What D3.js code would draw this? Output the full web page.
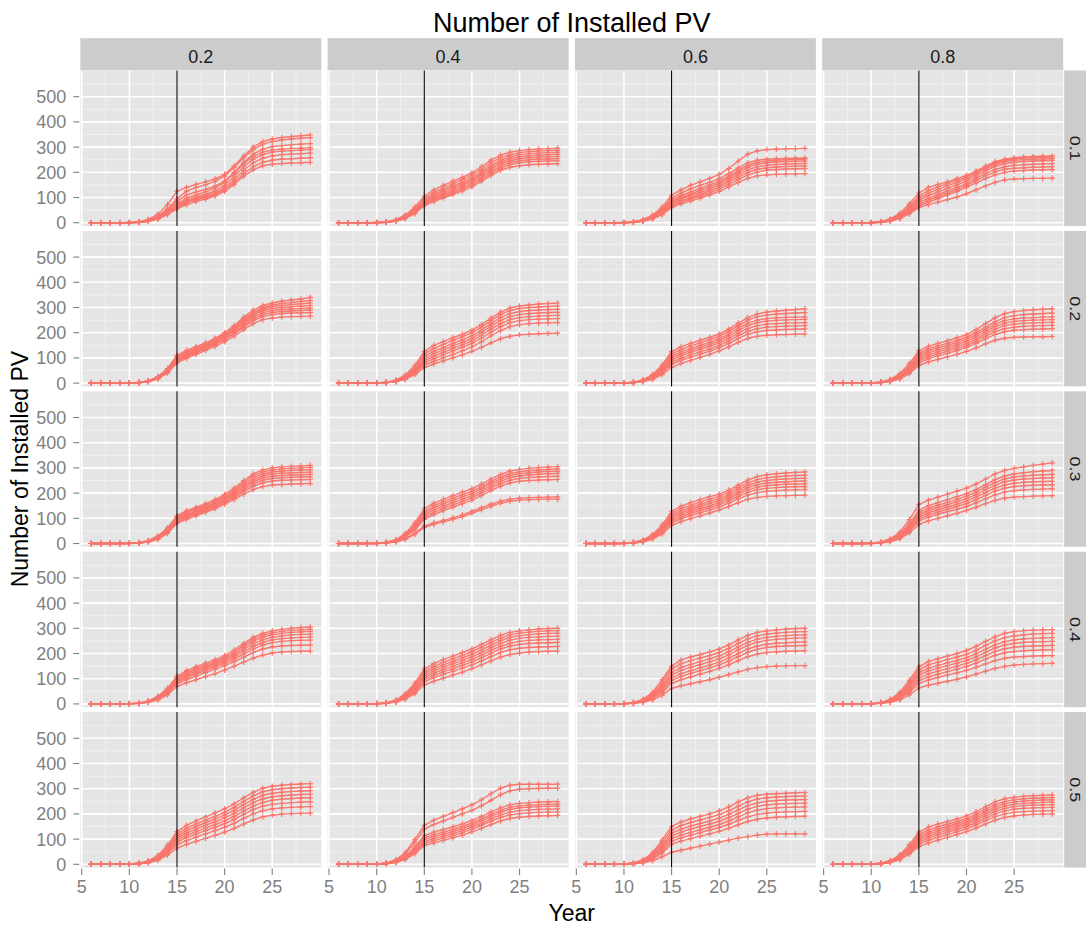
<!DOCTYPE html>
<html>
<head>
<meta charset="utf-8">
<script src="https://cdn.jsdelivr.net/npm/d3@7"></script>
<style>
  body { margin: 0; background: #fff; }
  text { font-family: "Liberation Sans", Arial, sans-serif; }
</style>
</head>
<body>
<div id="chart"></div>
<script>
// facets
var colLevels = ["0.2", "0.4", "0.6", "0.8"];
var rowLevels = ["0.1", "0.2", "0.3", "0.4", "0.5"];
var years = [6,7,8,9,10,11,12,13,14,15,16,17,18,19,20,21,22,23,24,25,26,27,28,29];
var xTicks = [5, 10, 15, 20, 25];
var yTicks = [0, 100, 200, 300, 400, 500];
var markYear = 15;

// runs per panel (one row per run, values for each year)
var r1c1 = [
  [0,0,0,0,1,4,13,34,72,125,140,152,162,174,192,225,265,300,322,332,338,342,345,348],
  [0,0,0,0,1,3,10,25,55,95,125,140,150,165,185,220,258,290,312,322,328,332,335,338],
  [0,0,0,0,0,2,8,22,50,85,110,122,132,145,165,200,240,272,292,302,306,310,312,314],
  [0,0,0,0,1,3,9,20,45,75,98,110,122,138,160,195,235,262,280,288,292,295,296,298],
  [0,0,0,0,0,2,7,18,40,70,90,102,112,126,148,182,222,252,270,280,284,286,288,290],
  [0,0,0,0,1,2,8,20,42,65,85,96,106,118,138,170,208,238,256,265,270,272,274,276],
  [0,0,0,0,0,2,6,16,36,60,80,90,100,112,130,160,195,222,240,248,252,254,256,258],
  [0,0,0,0,0,1,5,14,32,55,72,84,94,106,124,152,185,210,226,232,235,237,238,240]
];
var r1c2 = [
  [0,0,0,0,1,4,12,30,62,105,130,148,165,180,198,222,248,268,280,286,290,292,294,296],
  [0,0,0,0,1,3,10,26,55,95,120,138,155,172,190,212,238,258,270,278,282,284,286,288],
  [0,0,0,0,0,3,9,24,50,90,112,130,146,162,180,202,228,248,262,270,274,276,278,280],
  [0,0,0,0,1,3,9,22,48,85,106,124,140,155,172,195,220,240,254,262,266,268,270,272],
  [0,0,0,0,0,2,8,20,45,80,100,116,132,148,165,188,212,232,246,254,258,260,262,263],
  [0,0,0,0,0,2,7,18,42,76,95,110,125,140,158,180,204,224,238,246,250,252,253,254],
  [0,0,0,0,1,2,7,18,40,72,90,104,118,133,150,172,196,216,230,238,242,244,245,246],
  [0,0,0,0,0,2,6,16,36,68,84,98,112,126,142,164,188,208,220,226,230,232,233,234]
];
var r1c3 = [
  [0,0,0,0,1,4,12,30,62,110,130,148,162,176,192,215,245,272,285,290,292,293,294,295],
  [0,0,0,0,1,3,10,26,55,98,118,134,148,160,175,195,218,238,248,252,254,255,256,257],
  [0,0,0,0,0,3,9,23,50,90,108,122,136,150,165,185,208,228,240,245,248,250,251,252],
  [0,0,0,0,1,3,9,22,46,84,100,114,128,142,158,178,200,220,232,238,241,243,244,245],
  [0,0,0,0,0,2,8,20,42,78,95,108,120,134,150,170,192,210,222,228,231,233,234,235],
  [0,0,0,0,0,2,7,18,38,72,88,100,112,126,142,162,182,200,212,218,221,223,224,225],
  [0,0,0,0,1,2,6,16,35,66,82,94,106,118,134,152,172,190,202,208,211,213,214,215],
  [0,0,0,0,0,2,6,15,32,60,75,86,98,110,124,142,160,176,186,190,192,193,194,195]
];
var r1c4 = [
  [0,0,0,0,1,5,15,38,75,118,140,152,162,175,188,205,225,242,252,258,261,263,264,265],
  [0,0,0,0,1,4,12,32,65,105,128,142,155,168,182,200,220,238,248,254,257,259,260,261],
  [0,0,0,0,1,3,10,28,58,96,118,132,146,160,175,194,214,232,242,248,250,252,253,254],
  [0,0,0,0,0,3,9,25,52,88,108,122,136,150,166,186,206,224,234,240,243,245,246,247],
  [0,0,0,0,1,3,8,22,48,80,98,112,126,140,156,176,196,212,222,228,230,232,233,234],
  [0,0,0,0,0,2,7,20,44,72,90,104,118,132,148,168,186,202,212,216,218,220,221,222],
  [0,0,0,0,0,2,7,18,40,66,82,96,110,124,140,158,175,190,200,205,207,209,210,211],
  [0,0,0,0,0,2,6,16,35,60,72,82,92,102,115,130,146,160,170,174,175,176,176,177]
];
var r2c1 = [
  [0,0,0,0,1,3,10,26,58,110,130,145,160,178,200,228,262,290,308,318,325,330,334,340],
  [0,0,0,0,1,3,9,24,54,104,124,140,156,174,195,222,255,282,300,310,316,320,324,328],
  [0,0,0,0,0,2,8,22,50,100,120,136,152,170,190,216,248,276,294,304,308,312,315,318],
  [0,0,0,0,1,2,8,21,48,96,116,132,148,166,186,212,242,270,288,296,300,303,306,308],
  [0,0,0,0,0,2,7,20,46,92,112,128,144,162,182,206,236,262,280,288,292,294,296,298],
  [0,0,0,0,0,2,7,19,44,88,108,124,140,158,176,200,228,255,272,280,284,286,288,290],
  [0,0,0,0,1,2,6,18,42,84,104,120,136,153,172,195,222,248,264,272,276,278,279,280],
  [0,0,0,0,0,2,6,17,40,80,98,114,130,146,164,186,212,236,252,258,262,264,265,266]
];
var r2c2 = [
  [0,0,0,0,1,4,12,32,70,125,150,165,180,194,210,232,258,282,298,306,310,314,316,318],
  [0,0,0,0,1,3,10,28,62,115,138,154,170,184,200,222,248,272,288,296,300,302,304,306],
  [0,0,0,0,1,3,9,25,55,105,126,142,158,172,188,210,236,260,276,284,288,290,292,293],
  [0,0,0,0,0,3,8,22,50,96,116,132,148,162,178,200,226,248,264,272,276,278,280,281],
  [0,0,0,0,0,2,8,20,46,88,106,122,138,152,168,190,214,236,252,260,264,266,268,269],
  [0,0,0,0,1,2,7,18,42,80,96,112,128,142,158,178,202,224,240,248,252,254,255,256],
  [0,0,0,0,0,2,6,16,38,72,86,100,114,128,144,164,188,208,224,232,236,238,239,240],
  [0,0,0,0,0,2,6,15,34,62,76,88,100,112,126,142,160,176,186,192,194,196,197,198]
];
var r2c3 = [
  [0,0,0,0,1,4,13,34,72,125,145,158,170,182,195,214,238,260,275,282,286,289,292,295],
  [0,0,0,0,1,4,11,30,64,115,134,148,160,172,186,205,228,250,264,270,274,276,278,280],
  [0,0,0,0,1,3,10,27,58,106,124,138,150,162,176,195,218,238,250,256,259,261,262,263],
  [0,0,0,0,0,3,9,24,52,98,116,130,142,154,168,187,208,228,240,246,249,251,252,253],
  [0,0,0,0,0,2,8,22,48,90,108,122,134,146,160,178,198,216,228,234,236,238,239,240],
  [0,0,0,0,1,2,7,20,44,82,98,112,124,136,150,168,188,205,216,222,224,226,227,228],
  [0,0,0,0,0,2,7,18,40,74,90,103,115,127,141,158,177,194,204,209,211,213,214,215],
  [0,0,0,0,0,2,6,15,34,62,78,90,102,114,128,144,162,178,186,190,192,193,194,195]
];
var r2c4 = [
  [0,0,0,0,1,5,15,38,78,128,146,158,168,180,192,212,236,260,276,284,288,291,293,295],
  [0,0,0,0,1,4,12,32,68,118,136,148,158,170,182,200,222,244,260,268,272,274,276,278],
  [0,0,0,0,1,3,11,29,62,110,128,140,150,161,174,192,213,234,248,255,258,260,262,263],
  [0,0,0,0,0,3,10,26,56,102,120,132,142,153,166,184,204,224,238,245,248,250,251,252],
  [0,0,0,0,1,3,9,24,52,95,112,124,134,145,158,175,195,214,228,234,237,239,240,241],
  [0,0,0,0,0,2,8,22,48,88,104,116,126,137,150,166,186,204,216,222,225,227,228,229],
  [0,0,0,0,0,2,7,20,44,80,96,108,118,129,142,158,176,193,204,210,212,214,215,216],
  [0,0,0,0,0,2,6,17,38,70,84,94,104,114,126,140,156,170,178,182,183,184,184,185]
];
var r3c1 = [
  [0,0,0,0,1,4,12,30,62,110,130,144,158,174,195,220,250,276,292,300,304,306,308,310],
  [0,0,0,0,1,3,10,27,58,104,124,138,152,168,188,212,242,268,284,292,296,298,300,302],
  [0,0,0,0,1,3,9,25,55,100,119,133,147,163,182,206,235,260,276,284,288,290,292,293],
  [0,0,0,0,0,3,9,24,52,96,114,128,142,158,177,200,228,252,268,276,279,281,282,283],
  [0,0,0,0,0,2,8,22,49,92,110,124,138,153,172,194,221,245,260,267,270,272,273,274],
  [0,0,0,0,1,2,8,21,46,88,106,120,134,149,167,188,214,236,251,258,261,263,264,265],
  [0,0,0,0,0,2,7,19,43,84,101,115,129,144,162,182,206,227,241,248,251,252,253,254],
  [0,0,0,0,0,2,6,17,40,80,96,110,124,138,156,175,196,214,226,232,234,236,237,238]
];
var r3c2 = [
  [0,0,0,0,1,5,15,40,82,138,160,175,190,204,218,236,256,274,288,294,298,301,303,305],
  [0,0,0,0,1,4,13,35,74,128,150,165,180,194,208,226,246,264,278,285,289,292,294,296],
  [0,0,0,0,1,4,12,32,68,120,142,157,171,185,200,218,238,256,270,277,281,284,286,287],
  [0,0,0,0,1,3,11,29,62,112,133,148,162,176,191,209,229,247,261,268,272,275,277,278],
  [0,0,0,0,0,3,10,27,58,104,124,139,153,167,182,200,220,238,251,258,262,264,266,267],
  [0,0,0,0,0,3,9,25,54,96,115,130,144,158,172,190,210,228,240,247,250,252,253,254],
  [0,0,0,0,0,2,7,19,40,70,82,92,102,114,128,142,156,168,176,180,182,183,184,185],
  [0,0,0,0,0,2,6,17,36,64,76,86,96,107,120,134,148,160,168,172,174,175,176,176]
];
var r3c3 = [
  [0,0,0,0,1,5,14,36,74,128,148,162,174,186,196,212,232,252,266,273,277,280,282,284],
  [0,0,0,0,1,4,12,32,66,118,138,152,164,176,187,203,222,241,254,261,265,268,270,271],
  [0,0,0,0,1,4,11,29,60,110,129,143,155,167,178,194,213,231,244,250,254,256,258,259],
  [0,0,0,0,0,3,10,27,56,103,121,135,147,159,170,186,204,222,234,240,243,245,247,248],
  [0,0,0,0,1,3,9,24,51,96,113,127,139,150,162,178,196,213,224,230,233,235,236,237],
  [0,0,0,0,0,3,8,22,47,89,105,119,131,142,154,169,187,203,214,219,222,224,225,226],
  [0,0,0,0,0,2,7,20,43,82,98,111,122,133,145,160,177,192,202,207,210,212,213,214],
  [0,0,0,0,0,2,6,18,38,72,87,99,110,121,133,147,162,175,183,187,189,190,191,192]
];
var r3c4 = [
  [0,0,0,0,1,6,18,45,95,155,172,184,196,208,220,236,256,276,290,298,304,310,315,320],
  [0,0,0,0,1,5,15,38,80,132,150,162,174,186,198,214,234,254,268,276,281,285,288,290],
  [0,0,0,0,1,4,13,34,72,122,140,152,163,175,188,204,224,243,256,264,268,271,273,274],
  [0,0,0,0,1,4,12,31,66,114,131,143,154,166,178,194,213,232,245,252,256,258,260,261],
  [0,0,0,0,0,3,11,28,60,106,122,134,145,156,168,184,202,220,232,239,243,245,246,247],
  [0,0,0,0,0,3,10,26,55,98,114,125,136,147,158,173,191,208,220,226,229,231,232,233],
  [0,0,0,0,0,3,9,23,50,90,105,116,126,136,147,161,177,193,204,210,213,215,216,217],
  [0,0,0,0,0,2,7,19,42,76,90,100,110,120,131,144,158,171,180,184,186,188,189,190]
];
var r4c1 = [
  [0,0,0,0,1,4,12,30,62,110,132,148,162,176,192,214,240,264,280,290,296,300,303,305],
  [0,0,0,0,1,3,10,27,57,104,125,141,155,169,185,206,232,256,272,282,288,292,294,296],
  [0,0,0,0,1,3,9,25,54,99,119,135,149,163,179,199,224,248,264,274,280,284,286,288],
  [0,0,0,0,0,3,9,23,51,95,114,130,144,158,174,193,216,238,254,264,270,274,276,277],
  [0,0,0,0,0,2,8,22,48,90,108,124,138,152,168,186,207,228,244,254,259,262,264,265],
  [0,0,0,0,1,2,7,20,45,86,103,118,132,146,161,178,198,218,234,243,248,251,252,253],
  [0,0,0,0,0,2,7,18,42,80,96,110,124,138,152,168,186,204,218,226,230,232,233,234],
  [0,0,0,0,0,2,6,16,36,70,84,96,108,120,134,150,166,182,194,202,206,208,209,210]
];
var r4c2 = [
  [0,0,0,0,1,5,15,40,82,138,160,176,190,204,218,236,255,272,284,290,294,297,299,300],
  [0,0,0,0,1,4,13,35,74,128,149,165,179,193,207,225,244,261,274,281,285,288,290,291],
  [0,0,0,0,1,4,12,32,68,120,140,155,169,183,197,214,233,251,264,271,275,278,280,281],
  [0,0,0,0,1,3,11,29,62,112,131,146,160,173,187,204,223,240,253,260,264,266,268,269],
  [0,0,0,0,0,3,10,26,56,104,122,136,150,163,177,194,212,229,241,248,252,254,255,256],
  [0,0,0,0,0,3,9,24,52,96,113,127,140,153,167,183,201,218,230,236,240,242,243,244],
  [0,0,0,0,0,2,8,22,47,88,104,117,130,142,155,171,188,204,215,221,224,226,227,228],
  [0,0,0,0,0,2,7,19,41,76,90,102,114,126,140,155,171,186,196,202,206,208,209,210]
];
var r4c3 = [
  [0,0,0,0,1,6,18,46,96,150,175,186,196,206,218,234,254,272,284,290,294,297,299,300],
  [0,0,0,0,1,5,16,40,85,138,160,172,182,192,204,220,240,258,270,277,281,284,286,287],
  [0,0,0,0,1,4,13,34,74,125,145,157,168,179,191,207,226,244,257,264,268,271,273,274],
  [0,0,0,0,1,4,12,30,66,115,133,145,156,167,179,195,214,232,245,252,256,259,261,262],
  [0,0,0,0,0,3,10,27,58,104,120,132,143,154,166,182,200,218,230,237,241,243,245,246],
  [0,0,0,0,0,3,9,24,52,94,109,121,132,143,155,170,188,205,217,224,228,230,231,232],
  [0,0,0,0,0,2,8,21,45,82,96,107,118,129,141,155,172,188,198,204,207,209,210,211],
  [0,0,0,0,0,2,6,16,34,62,72,80,88,96,106,116,127,137,144,148,150,151,152,152]
];
var r4c4 = [
  [0,0,0,0,1,6,18,46,94,148,168,180,190,200,212,228,248,266,280,287,291,293,294,295],
  [0,0,0,0,1,5,15,40,84,135,155,166,176,186,197,213,232,250,263,270,274,277,279,280],
  [0,0,0,0,1,4,13,35,75,124,142,153,163,173,184,199,217,234,247,254,258,260,262,263],
  [0,0,0,0,1,4,12,31,67,114,131,142,152,162,173,187,205,222,234,240,244,246,247,248],
  [0,0,0,0,0,3,10,27,59,103,119,130,140,150,161,175,192,208,219,225,228,230,231,232],
  [0,0,0,0,0,3,9,24,52,93,107,118,128,138,149,162,178,193,203,208,211,213,214,215],
  [0,0,0,0,0,2,8,21,46,82,95,105,114,123,133,145,159,172,181,186,188,190,191,192],
  [0,0,0,0,0,2,6,16,36,64,74,82,90,98,107,118,130,141,149,154,157,159,160,161]
];
var r5c1 = [
  [0,0,0,0,1,5,14,36,76,130,155,172,188,204,220,240,264,286,302,310,314,317,319,320],
  [0,0,0,0,1,4,12,32,68,120,144,160,175,190,206,226,250,272,288,296,300,303,305,306],
  [0,0,0,0,1,4,11,29,62,112,134,150,165,180,195,214,237,258,274,282,286,289,291,292],
  [0,0,0,0,0,3,10,26,57,104,124,140,155,169,184,202,224,245,260,268,272,275,277,278],
  [0,0,0,0,0,3,9,24,52,96,115,130,144,158,172,190,211,231,246,254,258,261,263,264],
  [0,0,0,0,1,2,8,22,48,88,106,120,134,147,161,178,198,217,231,238,242,245,247,248],
  [0,0,0,0,0,2,7,19,43,78,94,108,121,134,147,163,182,200,213,220,224,226,228,229],
  [0,0,0,0,0,2,6,16,36,64,79,91,103,115,128,143,160,176,188,195,199,201,202,203]
];
var r5c2 = [
  [0,0,0,0,1,6,18,46,98,155,175,190,205,220,236,256,280,302,314,318,318,318,318,318],
  [0,0,0,0,1,5,15,40,86,140,158,172,186,200,214,232,254,276,292,298,300,301,302,302],
  [0,0,0,0,1,4,12,32,68,115,128,138,148,160,174,190,208,224,236,242,245,247,248,249],
  [0,0,0,0,1,4,11,29,62,106,118,128,138,150,164,180,198,214,226,232,235,237,238,239],
  [0,0,0,0,0,3,10,27,57,98,110,120,130,142,156,172,190,206,218,224,227,229,230,231],
  [0,0,0,0,0,3,9,25,52,90,102,112,122,134,148,163,180,196,207,213,216,218,219,220],
  [0,0,0,0,0,3,8,22,47,82,94,104,114,126,140,155,171,186,196,201,204,206,207,208],
  [0,0,0,0,0,2,7,19,42,74,85,95,105,116,129,143,158,172,182,187,190,192,193,194]
];
var r5c3 = [
  [0,0,0,0,1,6,18,46,96,150,168,180,190,200,212,228,248,264,274,278,280,282,284,285],
  [0,0,0,0,1,5,15,40,85,136,154,166,176,186,197,212,231,248,259,264,267,269,270,271],
  [0,0,0,0,1,4,13,35,75,124,140,152,162,172,183,198,216,233,244,250,253,255,256,257],
  [0,0,0,0,1,4,12,31,67,113,128,140,150,160,171,185,202,219,230,236,239,241,242,243],
  [0,0,0,0,0,3,10,27,59,102,116,127,137,147,158,172,188,204,215,221,224,226,227,228],
  [0,0,0,0,0,3,9,24,52,92,105,116,126,136,146,159,174,188,198,203,206,208,209,210],
  [0,0,0,0,0,2,8,20,44,80,92,102,112,121,131,143,157,170,179,184,187,189,190,191],
  [0,0,0,0,0,2,6,14,30,48,56,64,72,80,88,96,104,110,116,120,121,121,121,121]
];
var r5c4 = [
  [0,0,0,0,1,5,15,38,78,128,148,160,170,180,192,208,228,248,260,266,270,272,274,275],
  [0,0,0,0,1,4,13,34,70,118,137,149,160,170,182,198,218,237,249,256,260,262,264,265],
  [0,0,0,0,1,4,12,31,64,110,128,140,151,162,174,190,209,228,240,247,251,253,255,256],
  [0,0,0,0,0,3,11,28,58,102,120,132,143,154,166,182,201,219,231,238,242,244,246,247],
  [0,0,0,0,1,3,10,26,54,95,112,124,135,146,158,174,192,210,222,229,233,235,236,237],
  [0,0,0,0,0,3,9,24,50,88,104,116,127,138,150,165,183,200,212,219,222,224,225,226],
  [0,0,0,0,0,2,8,21,45,80,95,107,118,129,141,156,173,189,200,206,209,211,212,213],
  [0,0,0,0,0,2,7,18,40,70,84,96,107,118,130,144,160,175,186,192,196,198,199,200]
];

var panelRuns = [
  [r1c1, r1c2, r1c3, r1c4],
  [r2c1, r2c2, r2c3, r2c4],
  [r3c1, r3c2, r3c3, r3c4],
  [r4c1, r4c2, r4c3, r4c4],
  [r5c1, r5c2, r5c3, r5c4]
];

var width = 1086, height = 928;
var plotLeft = 80.3, plotTop = 70.5;
var panelW = 241, panelH = 155.5;
var stepX = 247.3, stepY = 160.4;
var lineColor = "#F8766D";
var axisGrey = "#7F7F7F";

var svg = d3.select("#chart").append("svg")
    .attr("width", width)
    .attr("height", height);

var x = d3.scaleLinear().domain([4.85, 30.15]).range([0, panelW]);
var y = d3.scaleLinear().domain([-13, 604]).range([panelH, 0]);

var line = d3.line()
    .x(function(d, i) { return x(years[i]); })
    .y(function(d) { return y(d); });

var xMinor = [7.5, 12.5, 17.5, 22.5, 27.5];
var yMinor = [50, 150, 250, 350, 450, 550];

var midX = plotLeft + (3 * stepX + panelW) / 2;
var midY = plotTop + (4 * stepY + panelH) / 2;

// title
svg.append("text")
    .attr("x", midX)
    .attr("y", 32)
    .attr("text-anchor", "middle")
    .style("font-size", "27px")
    .text("Number of Installed PV");

rowLevels.forEach(function(rl, ri) {
  colLevels.forEach(function(cl, ci) {
    var g = svg.append("g")
        .attr("transform", "translate(" + (plotLeft + ci * stepX) + "," + (plotTop + ri * stepY) + ")");

    g.append("rect")
        .attr("width", panelW)
        .attr("height", panelH)
        .attr("fill", "#E5E5E5");

    g.selectAll(".vminor").data(xMinor).enter().append("line")
        .attr("x1", function(d) { return x(d); }).attr("x2", function(d) { return x(d); })
        .attr("y1", 0).attr("y2", panelH)
        .attr("stroke", "#F2F2F2").attr("stroke-width", 0.8);
    g.selectAll(".hminor").data(yMinor).enter().append("line")
        .attr("y1", function(d) { return y(d); }).attr("y2", function(d) { return y(d); })
        .attr("x1", 0).attr("x2", panelW)
        .attr("stroke", "#F2F2F2").attr("stroke-width", 0.8);
    g.selectAll(".vmajor").data(xTicks).enter().append("line")
        .attr("x1", function(d) { return x(d); }).attr("x2", function(d) { return x(d); })
        .attr("y1", 0).attr("y2", panelH)
        .attr("stroke", "#fff").attr("stroke-width", 1.6);
    g.selectAll(".hmajor").data(yTicks).enter().append("line")
        .attr("y1", function(d) { return y(d); }).attr("y2", function(d) { return y(d); })
        .attr("x1", 0).attr("x2", panelW)
        .attr("stroke", "#fff").attr("stroke-width", 1.6);

    var runs = panelRuns[ri][ci];
    g.selectAll(".run").data(runs).enter().append("path")
        .attr("d", line)
        .attr("fill", "none")
        .attr("stroke", lineColor)
        .attr("stroke-width", 1.4);

    runs.forEach(function(run) {
      g.selectAll(null).data(run).enter().append("path")
          .attr("transform", function(d, i) { return "translate(" + x(years[i]) + "," + y(d) + ")"; })
          .attr("d", "M-2.6,0H2.6M0,-2.8V2.8")
          .attr("stroke", lineColor)
          .attr("stroke-width", 1.2);
    });

    g.append("line")
        .attr("x1", x(markYear)).attr("x2", x(markYear))
        .attr("y1", 0).attr("y2", panelH)
        .attr("stroke", "#000").attr("stroke-width", 1.1);

    // y axis on first column
    if (ci === 0) {
      g.selectAll(".ytick").data(yTicks).enter().append("line")
          .attr("x1", -7).attr("x2", -1)
          .attr("y1", function(d) { return y(d); }).attr("y2", function(d) { return y(d); })
          .attr("stroke", axisGrey).attr("stroke-width", 1.1);
      g.selectAll(".ylab").data(yTicks).enter().append("text")
          .attr("x", -14)
          .attr("y", function(d) { return y(d) + 6.5; })
          .attr("text-anchor", "end")
          .attr("fill", axisGrey)
          .style("font-size", "18px")
          .text(function(d) { return d; });
    }

    // x axis on last row
    if (ri === rowLevels.length - 1) {
      g.selectAll(".xtick").data(xTicks).enter().append("line")
          .attr("x1", function(d) { return x(d); }).attr("x2", function(d) { return x(d); })
          .attr("y1", panelH + 1).attr("y2", panelH + 7.5)
          .attr("stroke", axisGrey).attr("stroke-width", 1.1);
      g.selectAll(".xlab").data(xTicks).enter().append("text")
          .attr("x", function(d) { return x(d); })
          .attr("y", panelH + 25)
          .attr("text-anchor", "middle")
          .attr("fill", axisGrey)
          .style("font-size", "18px")
          .text(function(d) { return d; });
    }

    // top strips
    if (ri === 0) {
      g.append("rect")
          .attr("y", -32.3).attr("width", panelW).attr("height", 32)
          .attr("fill", "#CCCCCC");
      g.append("text")
          .attr("x", panelW / 2).attr("y", -7.5)
          .attr("text-anchor", "middle")
          .attr("fill", "#1A1A1A")
          .style("font-size", "18px")
          .text(cl);
    }

    // right strips
    if (ci === colLevels.length - 1) {
      g.append("rect")
          .attr("x", panelW + 1).attr("width", 32).attr("height", panelH)
          .attr("fill", "#CCCCCC");
      g.append("text")
          .attr("transform", "translate(" + (panelW + 7) + "," + (panelH / 2) + ") scale(0.8,1) rotate(90)")
          .attr("text-anchor", "middle")
          .attr("fill", "#1A1A1A")
          .style("font-size", "18px")
          .text(rl);
    }
  });
});

// axis titles
svg.append("text")
    .attr("x", midX)
    .attr("y", 921)
    .attr("text-anchor", "middle")
    .style("font-size", "23px")
    .text("Year");

svg.append("text")
    .attr("transform", "translate(28," + midY + ") rotate(-90)")
    .attr("text-anchor", "middle")
    .style("font-size", "23px")
    .text("Number of Installed PV");
</script>
</body>
</html>
